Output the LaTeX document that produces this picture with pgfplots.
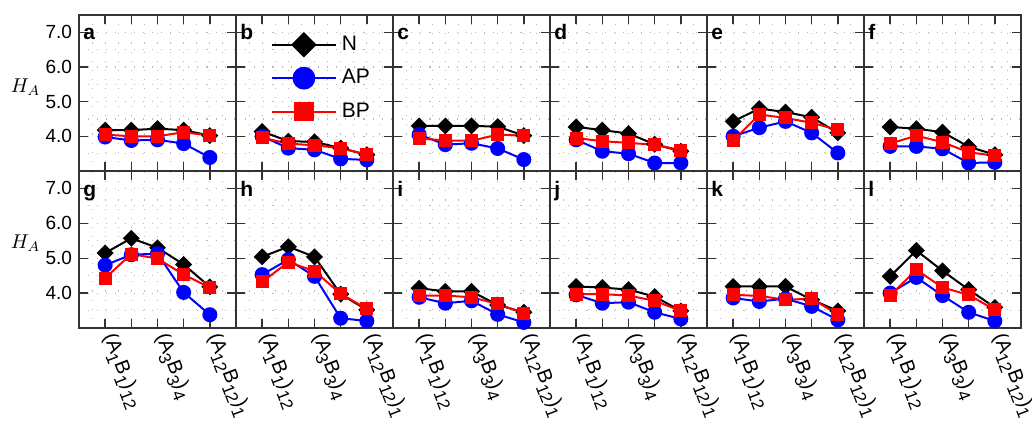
\documentclass[border=0pt]{standalone}
\usepackage{pgfplots}
\pgfplotsset{compat=1.18}
\usepackage{pgfplotstable}
\usepackage{fontspec}
\setmainfont{Liberation Sans}

\pgfplotstableread{
x N AP BP
1 4.18 3.98 4.05
2 4.18 3.88 4.00
3 4.22 3.90 4.00
4 4.18 3.79 4.12
5 4.02 3.39 4.02
}\tA
\pgfplotstableread{
x N AP BP
1 4.14 4.00 3.96
2 3.86 3.66 3.79
3 3.84 3.61 3.74
4 3.66 3.35 3.66
5 3.47 3.32 3.47
}\tB
\pgfplotstableread{
x N AP BP
1 4.30 4.05 3.94
2 4.30 3.76 3.88
3 4.30 3.80 3.87
4 4.28 3.65 4.05
5 4.02 3.33 4.02
}\tC
\pgfplotstableread{
x N AP BP
1 4.27 3.90 3.95
2 4.18 3.57 3.86
3 4.08 3.50 3.81
4 3.77 3.23 3.76
5 3.57 3.23 3.60
}\tD
\pgfplotstableread{
x N AP BP
1 4.43 4.00 3.88
2 4.80 4.25 4.63
3 4.70 4.43 4.53
4 4.55 4.10 4.39
5 4.10 3.52 4.19
}\tE
\pgfplotstableread{
x N AP BP
1 4.27 3.71 3.79
2 4.22 3.71 4.02
3 4.12 3.64 3.83
4 3.70 3.23 3.54
5 3.47 3.25 3.44
}\tF
\pgfplotstableread{
x N AP BP
1 5.15 4.80 4.43
2 5.57 5.10 5.12
3 5.30 5.13 4.99
4 4.82 4.02 4.53
5 4.18 3.38 4.16
}\tG
\pgfplotstableread{
x N AP BP
1 5.04 4.53 4.32
2 5.33 4.96 4.89
3 5.04 4.48 4.63
4 3.97 3.28 3.98
5 3.52 3.20 3.55
}\tH
\pgfplotstableread{
x N AP BP
1 4.14 3.88 3.93
2 4.05 3.71 3.93
3 4.05 3.78 3.88
4 3.66 3.39 3.69
5 3.45 3.16 3.42
}\tI
\pgfplotstableread{
x N AP BP
1 4.19 3.95 3.97
2 4.16 3.71 3.97
3 4.10 3.74 3.93
4 3.90 3.45 3.78
5 3.49 3.26 3.49
}\tJ
\pgfplotstableread{
x N AP BP
1 4.19 3.86 3.95
2 4.19 3.76 3.92
3 4.19 3.84 3.81
4 3.81 3.62 3.84
5 3.49 3.23 3.39
}\tK
\pgfplotstableread{
x N AP BP
1 4.48 4.00 3.93
2 5.22 4.45 4.67
3 4.64 3.93 4.16
4 4.10 3.45 3.95
5 3.59 3.20 3.52
}\tL

\newcommand\sub[1]{\raisebox{-0.55ex}{\fontsize{8.5}{9}\selectfont #1}}
\newcommand\lab[3]{(A\sub{#1}B\sub{#2})\sub{#3}}

\pgfplotsset{
  panel/.style={
    scale only axis, width=78.5pt,
    xmin=0, xmax=6, ymin=3, ymax=7.5,
    xtick={1,2,3,4,5}, ytick={4,5,6,7},
    minor xtick={0.5,1.5,2.5,3.5,4.5,5.5}, minor ytick={3.5,4.5,5.5,6.5},
    grid=both,
    major grid style={gray!55, line width=0.55pt, dash pattern=on 0.55pt off 4pt},
    minor grid style={gray!55, line width=0.55pt, dash pattern=on 0.55pt off 4pt},
    tick align=inside, major tick length=4.5pt, minor tick length=0pt,
    xticklabels={}, yticklabels={},
    axis line style={black!80, line width=0.7pt},
    every tick/.style={black!80, line width=0.7pt},
    tick label style={font=\fontsize{9.5}{11}\selectfont},
    clip=false,
    anchor=north west,
  },
  toprow/.style={height=78pt},
  botrow/.style={height=78.5pt,
    xticklabels={\lab{1}{1}{12},{},\lab{3}{3}{4},{},\lab{12}{12}{1}},
    x tick label style={rotate=-69, anchor=west, font=\fontsize{10}{11}\selectfont},
  },
  firstcol/.style={yticklabels={4.0,5.0,6.0,7.0}},
  Nst/.style={black, line width=1pt, mark=square*, mark size=2.5pt, mark options={rotate=45, solid, fill=black}},
  APst/.style={blue, line width=1pt, mark=*, mark size=3.25pt, mark options={solid, fill=blue}},
  BPst/.style={red, line width=1pt, mark=square*, mark size=2.75pt, mark options={solid, fill=red}},
}
\tikzset{letter/.style={anchor=base west, inner sep=0pt, font=\bfseries\fontsize{10.5}{12}\selectfont}}

\newcommand\plotdata[1]{%
  \addplot[Nst] table[x=x,y=N]{#1};
  \addplot[APst] table[x=x,y=AP]{#1};
  \addplot[BPst] table[x=x,y=BP]{#1};
}

\begin{document}
\begin{tikzpicture}
% top row
\begin{axis}[panel, toprow, firstcol, at={(39.5pt,-7.5pt)}]
\plotdata\tA
\node[letter] at (rel axis cs:0.025,0.84) {a};
\node[font=\fontsize{10}{12}\selectfont] at (rel axis cs:-0.34,0.54) {$H_A$};
\end{axis}
\begin{axis}[panel, toprow, at={(118pt,-7.5pt)},
  legend style={draw=none, fill=none, at={(rel axis cs:0.22,0.9)}, anchor=north west,
    font=\fontsize{10.5}{12}\selectfont, row sep=3pt, inner sep=0pt,
    nodes={inner sep=2.5pt}},
  legend cell align=left,
  legend image code/.code={%
    \draw[#1, mark=none] (0pt,0pt) -- (32pt,0pt);
    \draw[#1, every mark/.append style={scale=1.6}] plot coordinates {(16pt,0pt)};}]
\plotdata\tB
\legend{N,AP,BP}
\node[letter] at (rel axis cs:0.025,0.84) {b};
\end{axis}
\begin{axis}[panel, toprow, at={(196.5pt,-7.5pt)}]
\plotdata\tC
\node[letter] at (rel axis cs:0.025,0.84) {c};
\end{axis}
\begin{axis}[panel, toprow, at={(275pt,-7.5pt)}]
\plotdata\tD
\node[letter] at (rel axis cs:0.025,0.84) {d};
\end{axis}
\begin{axis}[panel, toprow, at={(353.5pt,-7.5pt)}]
\plotdata\tE
\node[letter] at (rel axis cs:0.025,0.84) {e};
\end{axis}
\begin{axis}[panel, toprow, at={(432pt,-7.5pt)}]
\plotdata\tF
\node[letter] at (rel axis cs:0.025,0.84) {f};
\end{axis}
% bottom row
\begin{axis}[panel, botrow, firstcol, at={(39.5pt,-85.5pt)}]
\plotdata\tG
\node[letter] at (rel axis cs:0.025,0.84) {g};
\node[font=\fontsize{10}{12}\selectfont] at (rel axis cs:-0.34,0.54) {$H_A$};
\end{axis}
\begin{axis}[panel, botrow, at={(118pt,-85.5pt)}]
\plotdata\tH
\node[letter] at (rel axis cs:0.025,0.84) {h};
\end{axis}
\begin{axis}[panel, botrow, at={(196.5pt,-85.5pt)}]
\plotdata\tI
\node[letter] at (rel axis cs:0.025,0.84) {i};
\end{axis}
\begin{axis}[panel, botrow, at={(275pt,-85.5pt)}]
\plotdata\tJ
\node[letter] at (rel axis cs:0.025,0.84) {j};
\end{axis}
\begin{axis}[panel, botrow, at={(353.5pt,-85.5pt)}]
\plotdata\tK
\node[letter] at (rel axis cs:0.025,0.84) {k};
\end{axis}
\begin{axis}[panel, botrow, at={(432pt,-85.5pt)}]
\plotdata\tL
\node[letter] at (rel axis cs:0.025,0.84) {l};
\end{axis}
\pgfresetboundingbox
\path (0pt,0pt) rectangle (516pt,-210.5pt);
\end{tikzpicture}
\end{document}
